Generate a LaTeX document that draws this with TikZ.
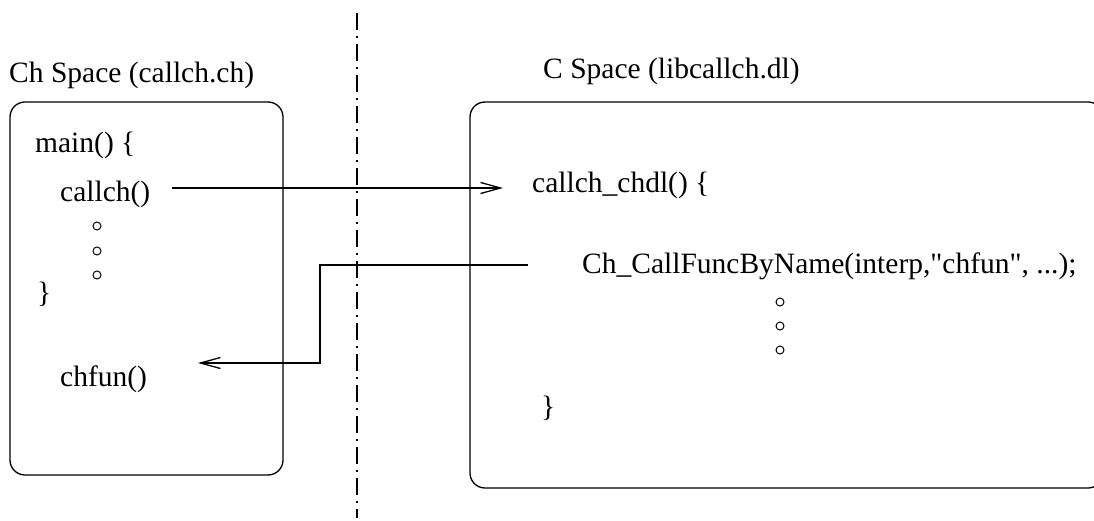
\documentclass[tikz,border=0pt]{standalone}
\usepackage{fontspec}
\setmainfont{Liberation Serif}[Ligatures=TeXOff]
\usetikzlibrary{arrows.meta}
\begin{document}
\begin{tikzpicture}[x=1pt,y=-1pt,
  lbl/.style={anchor=base west,inner sep=0pt,font=\fontsize{29.5}{35}\selectfont},
  box/.style={draw,line width=1.3pt,rounded corners=15pt},
  conn/.style={line width=1.3pt,-{Straight Barb[length=20pt,width=11pt,line width=1.3pt]}},
  smalldot/.style={circle,draw,line width=1pt,inner sep=0pt,minimum size=8pt},
  sepline/.style={line width=1.3pt,dash pattern=on 17pt off 6pt on 2pt off 6pt}]
\useasboundingbox (0,0) rectangle (1094,521);
\clip (0,0) rectangle (1094,521);

% separator
\coordinate (septop) at (357,13);
\coordinate (sepbot) at (357,518);
\draw[sepline] (septop) -- (sepbot);

% boxes
\draw[box] (10,102) rectangle (283,475);
\draw[box] (470,102) rectangle (1103,488);

% titles
\node[lbl] (chspace) at (9,83) {Ch Space (callch.ch)};
\node[lbl] (cspace) at (543,79) {C Space (libcallch.dl)};

% left box content
\node[lbl] (main) at (35,153) {main() \{};
\node[lbl] (callch) at (60,202) {callch()};
\node[smalldot] (l1) at (97,226) {};
\node[smalldot] (l2) at (97,251) {};
\node[smalldot] (l3) at (97,275) {};
\node[lbl] (lbrace) at (37,302) {\}};
\node[lbl] (chfun) at (60,386) {chfun()};

% right box content
\node[lbl] (chdl) at (532,193) {callch\_chdl() \{};
\node[lbl] (callfunc) at (582,273) {Ch\_CallFuncByName(interp,"chfun", ...);};
\node[smalldot] (r1) at (780,302) {};
\node[smalldot] (r2) at (780,326) {};
\node[smalldot] (r3) at (780,350) {};
\node[lbl] (rbrace) at (541,416) {\}};

% connectors
\coordinate (a1s) at (172,188);
\coordinate (a1e) at (503,188);
\draw[conn] (a1s) -- (a1e);

\coordinate (a2s) at (528,265);
\coordinate (a2c) at (320,363);
\coordinate (a2e) at (198,363);
\draw[conn] (a2s) -| (a2c) -- (a2e);
\end{tikzpicture}
\end{document}
